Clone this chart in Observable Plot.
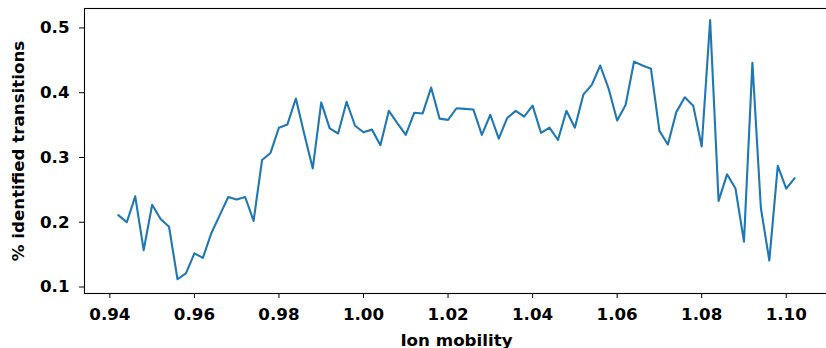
<!DOCTYPE html>
<html><head><meta charset="utf-8">
<script src="https://cdn.jsdelivr.net/npm/d3@7"></script>
<script src="https://cdn.jsdelivr.net/npm/@observablehq/plot@0.6"></script>
<style>
html,body{margin:0;padding:0;background:#fff;overflow:hidden;width:826px;height:348px;}
#chart svg{display:block;max-width:none !important;}
</style></head><body><div id="chart"></div>
<script>
const ionMobility = [
  0.942,0.944,0.946,0.948,0.950,0.952,0.954,0.956,0.958,0.960,
  0.962,0.964,0.966,0.968,0.970,0.972,0.974,0.976,0.978,0.980,
  0.982,0.984,0.986,0.988,0.990,0.992,0.994,0.996,0.998,1.000,
  1.002,1.004,1.006,1.008,1.010,1.012,1.014,1.016,1.018,1.020,
  1.022,1.024,1.026,1.028,1.030,1.032,1.034,1.036,1.038,1.040,
  1.042,1.044,1.046,1.048,1.050,1.052,1.054,1.056,1.058,1.060,
  1.062,1.064,1.066,1.068,1.070,1.072,1.074,1.076,1.078,1.080,
  1.082,1.084,1.086,1.088,1.090,1.092,1.094,1.096,1.098,1.100,
  1.102
];
const identifiedPct = [
  0.211,0.200,0.240,0.157,0.227,0.205,0.193,0.112,0.121,0.152,
  0.145,0.183,0.211,0.239,0.235,0.239,0.202,0.296,0.307,0.346,
  0.351,0.391,0.336,0.283,0.385,0.345,0.337,0.386,0.349,0.339,
  0.343,0.319,0.372,0.353,0.335,0.369,0.368,0.408,0.360,0.358,
  0.376,0.375,0.374,0.335,0.366,0.329,0.361,0.372,0.363,0.380,
  0.338,0.346,0.327,0.372,0.346,0.397,0.412,0.442,0.406,0.357,
  0.381,0.448,0.442,0.437,0.341,0.320,0.370,0.393,0.380,0.317,
  0.512,0.233,0.274,0.252,0.170,0.446,0.222,0.141,0.287,0.252,
  0.268
];
const xTicks = [0.94,0.96,0.98,1.00,1.02,1.04,1.06,1.08,1.10];
const yTicks = [0.1,0.2,0.3,0.4,0.5];
const xLabel = "Ion mobility";
const yLabel = "% identified transitions";

const data = ionMobility.map((x, i) => ({x, y: identifiedPct[i]}));

const chart = Plot.plot({
  width: 828,
  height: 348,
  marginLeft: 84,
  marginRight: 0,
  marginTop: 8,
  marginBottom: 55,
  style: {fontFamily: "DejaVu Sans", fontWeight: "bold", fontSize: "16.7px", color: "black", background: "white", maxWidth: "none"},
  x: {domain: [0.934, 1.110]},
  y: {domain: [0.09, 0.53]},
  marks: [
    Plot.line(data, {x: "x", y: "y", stroke: "#1f77b4", strokeWidth: 2.1}),
    Plot.axisX({ticks: xTicks, tickFormat: d3.format(".2f"), tickSize: 5, tickPadding: 10,
      label: xLabel, labelAnchor: "center", labelOffset: 52, labelArrow: "none"}),
    Plot.axisY({ticks: yTicks, tickFormat: d3.format(".1f"), tickSize: 5, tickPadding: 10,
      label: yLabel, labelAnchor: "center", labelOffset: 72, labelArrow: "none"}),
    Plot.frame({stroke: "black", strokeWidth: 1.1})
  ]
});
document.getElementById("chart").appendChild(chart);
</script>
</body></html>
